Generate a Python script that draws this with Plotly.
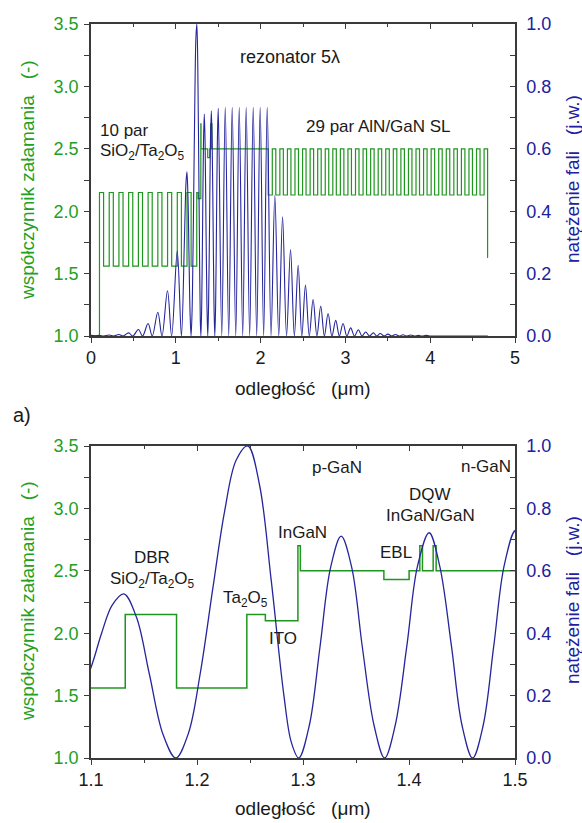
import plotly.graph_objects as go

# ---------------- data ----------------
# refractive-index profile: layer table (n, thickness in um)
air_start = 0.0
air_end = 0.100
n_air = 1.00

dbr_pairs = 10
dbr_layers = [(2.15, 0.0484), (1.56, 0.0663)]          # Ta2O5 / SiO2

cavity_layers = [                                       # (n, right edge um)
    (2.15, 1.2645),   # Ta2O5
    (2.10, 1.2952),   # ITO
    (2.70, 1.2975),   # InGaN
    (2.50, 1.3763),   # p-GaN
    (2.43, 1.4001),   # EBL
    (2.50, 1.4102),   # GaN
    (2.70, 1.4127),   # QW InGaN
    (2.50, 1.4228),   # GaN barrier
    (2.70, 1.4256),   # QW InGaN
    (2.50, 2.0900),   # n-GaN
]

sl_pairs = 29
sl_layers = [(2.13, 0.0480), (2.50, 0.0412)]            # AlN / GaN
n_substrate = 1.63
substrate_end = 4.680

# wave intensity (j.w.)
int_x = [0.000, 0.050, 0.100, 0.150, 0.215, 0.264, 0.330, 0.379, 0.444, 0.493,
         0.559, 0.608, 0.673, 0.722, 0.788, 0.837, 0.902, 0.951, 1.017, 1.066,
         1.100, 1.110, 1.120, 1.131, 1.143, 1.155, 1.168, 1.180, 1.192, 1.203,
         1.215, 1.226, 1.237, 1.248, 1.259, 1.270, 1.282, 1.289, 1.296, 1.306,
         1.316, 1.326, 1.336, 1.346, 1.356, 1.367, 1.377, 1.387, 1.398, 1.408,
         1.419, 1.429, 1.440, 1.450, 1.460, 1.470, 1.480, 1.490, 1.501, 1.542,
         1.583, 1.624, 1.665, 1.707, 1.748, 1.789, 1.830, 1.871, 1.913, 1.954,
         1.995, 2.036, 2.078, 2.123, 2.168, 2.214, 2.259, 2.306, 2.353, 2.398,
         2.443, 2.486, 2.529, 2.574, 2.619, 2.664, 2.709, 2.752, 2.796, 2.841,
         2.886, 2.929, 2.972, 3.017, 3.062, 3.107, 3.153, 3.196, 3.239, 3.285,
         3.330, 3.370, 3.410, 3.455, 3.500, 3.545, 3.590, 3.635, 3.680, 3.725,
         3.770, 3.815, 3.860, 3.905, 3.950, 3.995, 4.300, 4.680]
int_y = [0.002, 0.001, 0.002, 0.000, 0.003, 0.000, 0.005, 0.000, 0.010, 0.000,
         0.021, 0.000, 0.040, 0.000, 0.076, 0.000, 0.145, 0.000, 0.272, 0.000,
         0.290, 0.400, 0.490, 0.526, 0.450, 0.270, 0.075, 0.000, 0.080, 0.270,
         0.545, 0.790, 0.955, 1.000, 0.875, 0.570, 0.200, 0.050, 0.000, 0.105,
         0.355, 0.610, 0.711, 0.610, 0.355, 0.105, 0.000, 0.105, 0.360, 0.615,
         0.722, 0.615, 0.360, 0.105, 0.000, 0.105, 0.360, 0.620, 0.730, 0.000,
         0.733, 0.000, 0.733, 0.000, 0.733, 0.000, 0.733, 0.000, 0.733, 0.000,
         0.733, 0.000, 0.733, 0.000, 0.450, 0.000, 0.382, 0.000, 0.277, 0.000,
         0.227, 0.000, 0.163, 0.000, 0.117, 0.000, 0.096, 0.000, 0.072, 0.000,
         0.050, 0.000, 0.040, 0.000, 0.026, 0.000, 0.020, 0.000, 0.013, 0.000,
         0.010, 0.000, 0.008, 0.000, 0.006, 0.000, 0.005, 0.000, 0.004, 0.000,
         0.003, 0.000, 0.002, 0.000, 0.002, 0.000, 0.000, 0.000]

left_ticks = [1.0, 1.5, 2.0, 2.5, 3.0, 3.5]
right_ticks = [0.0, 0.2, 0.4, 0.6, 0.8, 1.0]

# ---------------- build step profile from the layer table ----------------
edges = []   # (left, right, n)
edges.append((air_start, air_end, n_air))
pos = air_end
for _ in range(dbr_pairs):
    for n, t in dbr_layers:
        edges.append((pos, pos + t, n))
        pos += t
for n, right in cavity_layers:
    edges.append((pos, right, n))
    pos = right
for _ in range(sl_pairs):
    for n, t in sl_layers:
        edges.append((pos, pos + t, n))
        pos += t
edges.append((pos, substrate_end, n_substrate))

prof_x, prof_y = [], []
for a, b, n in edges:
    prof_x += [a, b]
    prof_y += [n, n]

# ---------------- styling ----------------
W, H = 582, 823
FONT = "Liberation Sans, Arial, sans-serif"
GREEN_LINE = "#1f961f"
GREEN_TXT = "#22a022"
BLUE_LINE = "#25259c"
BLUE_TXT = "#2020a0"
FRAME = "#3a3a3a"

def px_x(p):
    return p / W

def px_y(p):
    return 1 - p / H

xdom = [px_x(91), px_x(515)]
top_dom = [px_y(336), px_y(24)]
bot_dom = [px_y(758), px_y(446)]

fig = go.Figure()

# top panel
fig.add_trace(go.Scatter(x=prof_x, y=prof_y, mode="lines", xaxis="x", yaxis="y",
                         line=dict(color=GREEN_LINE, width=1.2), hoverinfo="skip"))
fig.add_trace(go.Scatter(x=int_x, y=int_y, mode="lines", xaxis="x", yaxis="y2",
                         line=dict(color=BLUE_LINE, width=1.1, shape="spline", smoothing=1.0),
                         hoverinfo="skip"))
# bottom panel
fig.add_trace(go.Scatter(x=prof_x, y=prof_y, mode="lines", xaxis="x2", yaxis="y3",
                         line=dict(color=GREEN_LINE, width=1.5), hoverinfo="skip"))
fig.add_trace(go.Scatter(x=int_x, y=int_y, mode="lines", xaxis="x2", yaxis="y4",
                         line=dict(color=BLUE_LINE, width=1.3, shape="spline", smoothing=1.0),
                         hoverinfo="skip"))
# empty traces so the top-edge tick axes are drawn
fig.add_trace(go.Scatter(x=[], y=[], xaxis="x3", yaxis="y", hoverinfo="skip"))
fig.add_trace(go.Scatter(x=[], y=[], xaxis="x4", yaxis="y3", hoverinfo="skip"))

tickfont_k = dict(family=FONT, size=18, color="#1a1a1a")
tickfont_g = dict(family=FONT, size=18, color=GREEN_TXT)
tickfont_b = dict(family=FONT, size=18, color=BLUE_TXT)

def xax(dom, anchor, rng, dtick, minor):
    return dict(domain=dom, anchor=anchor, range=rng, dtick=dtick, tick0=0,
                ticks="outside", ticklen=5, tickwidth=1.3, tickcolor=FRAME,
                minor=dict(ticks="outside", dtick=minor, ticklen=3, tickwidth=1.2, tickcolor=FRAME),
                showline=True, linecolor=FRAME, linewidth=1.5, mirror=True,
                showgrid=False, zeroline=False, tickfont=tickfont_k, automargin=False)

def topax(overlay, anchor, rng, dtick, minor):
    return dict(overlaying=overlay, anchor=anchor, side="top", range=rng, dtick=dtick, tick0=0,
                ticks="inside", ticklen=5, tickwidth=1.3, tickcolor=FRAME,
                minor=dict(ticks="inside", dtick=minor, ticklen=3, tickwidth=1.2, tickcolor=FRAME),
                showticklabels=False, showline=False, showgrid=False, zeroline=False,
                automargin=False)

def yleft(dom, anchor):
    return dict(domain=dom, anchor=anchor, range=[1.0, 3.5], tickvals=left_ticks,
                tickformat=".1f", ticks="outside", ticklen=5, tickwidth=1.3, tickcolor=FRAME,
                minor=dict(ticks="outside", dtick=0.25, ticklen=5, tickwidth=1.2, tickcolor=FRAME),
                showline=True, linecolor=FRAME, linewidth=1.5, mirror=False,
                showgrid=False, zeroline=False, tickfont=tickfont_g, ticklabelstandoff=2,
                automargin=False)

def yright(overlay, anchor):
    return dict(overlaying=overlay, anchor=anchor, side="right", range=[0, 1.0],
                tickvals=right_ticks, tickformat=".1f",
                ticks="inside", ticklen=5, tickwidth=1.3, tickcolor=FRAME,
                minor=dict(ticks="inside", dtick=0.1, ticklen=5, tickwidth=1.2, tickcolor=FRAME),
                showline=True, linecolor=FRAME, linewidth=1.5,
                showgrid=False, zeroline=False, tickfont=tickfont_b, ticklabelstandoff=6,
                automargin=False)

fig.update_layout(
    width=W, height=H, margin=dict(l=0, r=0, t=0, b=0, autoexpand=False),
    paper_bgcolor="white", plot_bgcolor="white", showlegend=False,
    font=dict(family=FONT, size=17, color="#1a1a1a"),
    xaxis=xax(xdom, "y", [0, 5], 1, 0.5),
    xaxis2=xax(xdom, "y3", [1.1, 1.5], 0.1, 0.05),
    xaxis3=topax("x", "y", [0, 5], 1, 0.5),
    xaxis4=topax("x2", "y3", [1.1, 1.5], 0.1, 0.05),
    yaxis=yleft(top_dom, "x"),
    yaxis2=yright("y", "x"),
    yaxis3=yleft(bot_dom, "x2"),
    yaxis4=yright("y3", "x2"),
)

NB = "\u00a0"
SUB = lambda s: "<sub>" + s + "</sub>"

def ann(text, x, y, size=17, color="#1a1a1a", angle=0, xanchor="center"):
    fig.add_annotation(text=text, x=px_x(x), y=px_y(y), xref="paper", yref="paper",
                       showarrow=False, xanchor=xanchor, yanchor="middle",
                       textangle=angle, font=dict(family=FONT, size=size, color=color))

ytitle_l = "współczynnik załamania" + NB * 3 + "(-)"
ytitle_r = "natężenie fali" + NB * 3 + "(j.w.)"
xtitle = "odległość" + NB * 3 + "(μm)"

for cy_l, cy_r, cy_x in [(180, 179, 388), (601, 600, 808)]:
    ann(ytitle_l, 27, cy_l, size=19, color=GREEN_TXT, angle=-90)
    ann(ytitle_r, 572, cy_r, size=19, color=BLUE_TXT, angle=-90)
    ann(xtitle, 303, cy_x, size=19)

ann("a)", 22, 415, size=20)

# top panel labels
ann("rezonator 5λ", 238, 57, size=18, xanchor="left")
ann("10 par", 98, 130, xanchor="left")
ann("SiO" + SUB("2") + "/Ta" + SUB("2") + "O" + SUB("5"), 98, 152, xanchor="left")
ann("29 par AlN/GaN SL", 378, 126)

# bottom panel labels
ann("DBR", 152, 557)
ann("SiO" + SUB("2") + "/Ta" + SUB("2") + "O" + SUB("5"), 152, 580)
ann("Ta" + SUB("2") + "O" + SUB("5"), 245, 599)
ann("ITO", 283, 638)
ann("InGaN", 302, 532)
ann("p-GaN", 337, 468)
ann("n-GaN", 486, 466)
ann("DQW", 430, 494)
ann("InGaN/GaN", 430, 515)
ann("EBL", 396, 552)

fig.write_html("out.html")
